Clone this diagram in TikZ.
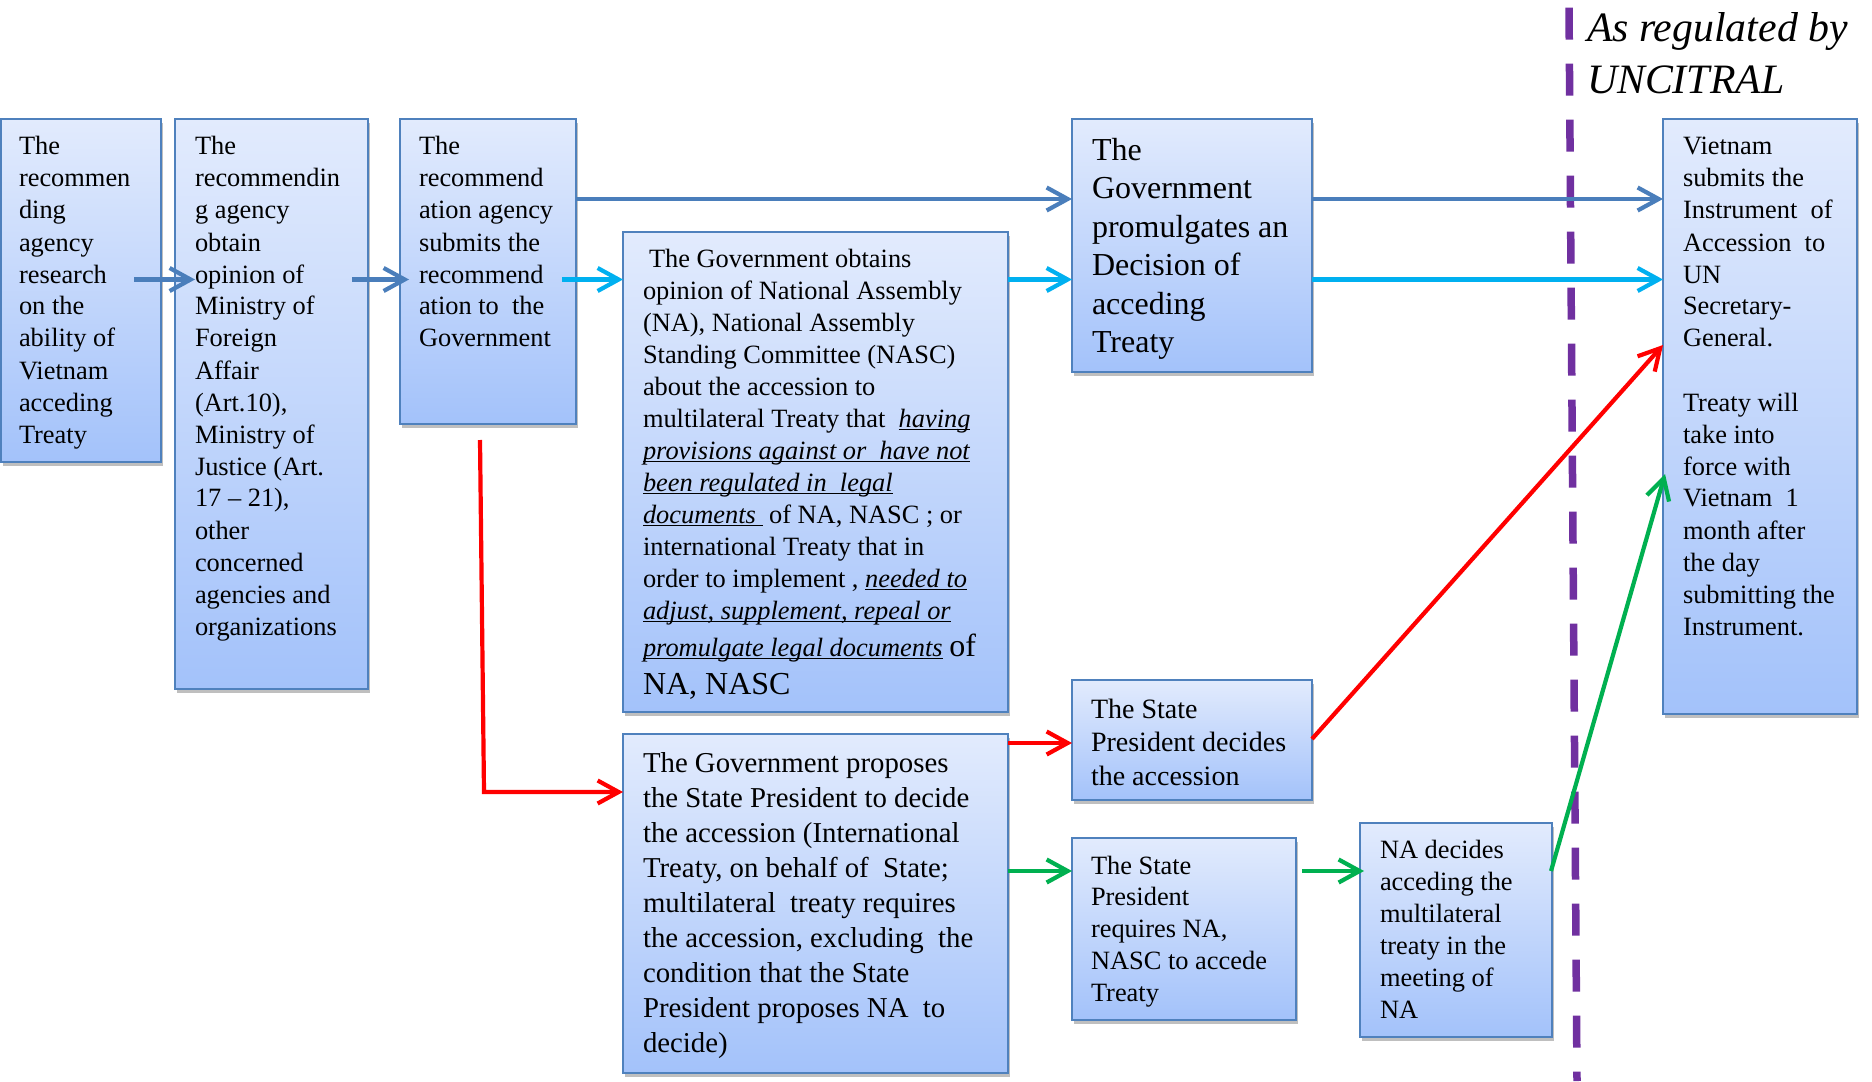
\documentclass[tikz,border=0pt]{standalone}
\usepackage{fontspec}
\setmainfont{Liberation Serif}
\usetikzlibrary{arrows.meta,calc,shadows}
\newlength\myulw
\newcommand\myul[1]{\leavevmode\settowidth{\myulw}{#1}\rlap{\rule[-1.7pt]{\myulw}{0.55pt}}#1}
\definecolor{boxtop}{RGB}{226,235,253}
\definecolor{boxbot}{RGB}{163,194,250}
\definecolor{boxline}{RGB}{79,129,189}
\definecolor{darkblue}{RGB}{74,126,187}
\definecolor{cyanline}{RGB}{0,176,240}
\definecolor{redline}{RGB}{255,0,0}
\definecolor{greenline}{RGB}{0,176,80}
\definecolor{purpleline}{RGB}{112,48,160}
\begin{document}
\begin{tikzpicture}[x=0.5pt,y=-0.5pt,
  box/.style={draw=boxline, line width=1pt, top color=boxtop, bottom color=boxbot,
    anchor=north west, inner sep=0pt, outer sep=0pt,
    drop shadow={shadow xshift=1pt, shadow yshift=-2pt, opacity=0.25, fill=black}},
  txt/.style={anchor=base west, inner sep=0pt, outer sep=0pt},
  smalltxt/.style={txt, font=\fontsize{13.2}{16}\selectfont},
  conn/.style={line width=2.1pt, -{Straight Barb[length=10.5pt,width=11.5pt]}},
  blueconn/.style={conn, draw=darkblue},
  cyanconn/.style={conn, draw=cyanline},
  redconn/.style={conn, draw=redline},
  greenconn/.style={conn, draw=greenline},
  divider/.style={draw=purpleline, line width=3.75pt, dash pattern=on 16pt off 12pt}
]
\path[use as bounding box, fill=white] (0,0) rectangle (1872,1081);

% boxes
\node[box, minimum width=80pt,   minimum height=171.5pt] (b1)  at (1,119)    {};
\node[box, minimum width=96.5pt, minimum height=285pt]   (b2)  at (175,119)  {};
\node[box, minimum width=88pt,   minimum height=152.5pt] (b3)  at (400,119)  {};
\node[box, minimum width=192.5pt,minimum height=240pt]   (b4)  at (623,232)  {};
\node[box, minimum width=120pt,  minimum height=126.5pt] (b5)  at (1072,119) {};
\node[box, minimum width=97pt,   minimum height=297.5pt] (b6)  at (1663,119) {};
\node[box, minimum width=192.5pt,minimum height=169.5pt] (b7)  at (623,734)  {};
\node[box, minimum width=120pt,  minimum height=60pt]    (b8)  at (1072,680) {};
\node[box, minimum width=112pt,  minimum height=91pt]    (b9)  at (1072,838) {};
\node[box, minimum width=96pt,   minimum height=107pt]   (b10) at (1360,823) {};

% divider
\coordinate (dtop) at (1569,7.6);
\coordinate (dbot) at (1577,1081);
\draw[divider] (dtop) -- (dbot);

% texts
\node[smalltxt] (t1) at (19,155) {\parbox[t]{120pt}{\raggedright
The\\recommen\\ding\\agency\\research\\on the\\ability of\\Vietnam\\acceding\\Treaty}};

\node[smalltxt] (t2) at (195,155) {\parbox[t]{120pt}{\raggedright
The\\recommendin\\g agency\\obtain\\opinion of\\Ministry of\\Foreign\\Affair\\(Art.10),\\Ministry of\\Justice (Art.\\17 – 21),\\other\\concerned\\agencies and\\organizations}};

\node[smalltxt] (t3) at (419,155) {\parbox[t]{120pt}{\raggedright
The\\recommend\\ation agency\\submits the\\recommend\\ation to\ \ the\\Government}};

\node[smalltxt] (t4) at (643,267) {\parbox[t]{200pt}{\raggedright
\hspace{3pt}The Government obtains\\
opinion of National Assembly\\
(NA), National Assembly\\
Standing Committee (NASC)\\
about the accession to\\
multilateral Treaty that\ \ {\itshape\myul{having}}\\
{\itshape\myul{provisions against or\ \ have not}}\\
{\itshape\myul{been regulated in\ \ legal}}\\
{\itshape\myul{documents\ }}\ of NA, NASC ; or\\
international Treaty that in\\
order to implement , {\itshape\myul{needed to}}\\
{\itshape\myul{adjust, supplement, repeal or}}\\[2.5pt]
{\itshape\myul{promulgate legal documents}} {\fontsize{16}{19}\selectfont of}\\[3pt]
{\fontsize{16}{19}\selectfont NA, NASC}}};

\node[txt, font=\fontsize{16}{19.25}\selectfont] (t5) at (1092,160) {\parbox[t]{150pt}{\raggedright
The\\Government\\promulgates an\\Decision of\\acceding\\Treaty}};

\node[smalltxt] (t6) at (1683,155) {\parbox[t]{120pt}{\raggedright
Vietnam\\submits the\\Instrument\ \ of\\Accession\ \ to\\UN\\Secretary-\\General.\\[16pt]
Treaty will\\take into\\force with\\Vietnam\ \ 1\\month after\\the day\\submitting the\\Instrument.}};

\node[txt, font=\fontsize{14.4}{17.5}\selectfont] (t7) at (643,772) {\parbox[t]{220pt}{\raggedright
The Government proposes\\the State President to decide\\the accession (International\\Treaty, on behalf of\ \ State;\\multilateral\ \ treaty requires\\the accession, excluding\ \ the\\condition that the State\\President proposes NA\ \ to\\decide)}};

\node[txt, font=\fontsize{14}{16.8}\selectfont] (t8) at (1091,718) {\parbox[t]{150pt}{\raggedright
The State\\President decides\\the accession}};

\node[txt, font=\fontsize{13.2}{15.9}\selectfont] (t9) at (1091,874) {\parbox[t]{150pt}{\raggedright
The State\\President\\requires NA,\\NASC to accede\\Treaty}};

\node[smalltxt] (t10) at (1380,858) {\parbox[t]{120pt}{\raggedright
NA decides\\acceding the\\multilateral\\treaty in the\\meeting of\\NA}};

\node[txt, font=\fontsize{20.9}{26}\selectfont\itshape] (treg) at (1587,42) {\parbox[t]{150pt}{\raggedright
As regulated by\\UNCITRAL}};

% connectors
\draw[blueconn] ($(b1.north west)+(133,160.5)$) -- ($(b2.north west)+(20,160.5)$);
\draw[blueconn] ($(b2.north west)+(177,160.5)$) -- ($(b3.north west)+(9,160.5)$);
\draw[blueconn] ($(b3.north east)+(0,80)$) -- ($(b5.north west)+(0,80)$);
\draw[cyanconn] ($(b3.north west)+(162,160.5)$) -- ($(b4.north west)+(0,47.5)$);
\draw[cyanconn] ($(b4.north east)+(0,47.5)$) -- ($(b5.north west)+(0,160.5)$);
\draw[blueconn] ($(b5.north east)+(0,80)$) -- ($(b6.north west)+(0,80)$);
\draw[cyanconn] ($(b5.north east)+(0,160.5)$) -- ($(b6.north west)+(0,160.5)$);

\draw[redconn] ($(b3.south west)+(80,16)$) -- ($(b3.south west)+(84,368)$) -- ($(b7.north west)+(0,58)$);
\draw[redconn] ($(b7.north east)+(0,9)$) -- ($(b8.north west)+(0,63)$);
\draw[redconn] ($(b8.north east)+(0,59)$) -- ($(b6.north west)+(0,226)$);

\draw[greenconn] ($(b7.north east)+(0,137)$) -- ($(b9.north west)+(0,33)$);
\draw[greenconn] ($(b9.north east)+(6,33)$) -- ($(b10.north west)+(4,48)$);
\draw[greenconn] ($(b10.north east)+(-1,48)$) -- ($(b6.north west)+(2,355)$);
\end{tikzpicture}
\end{document}
